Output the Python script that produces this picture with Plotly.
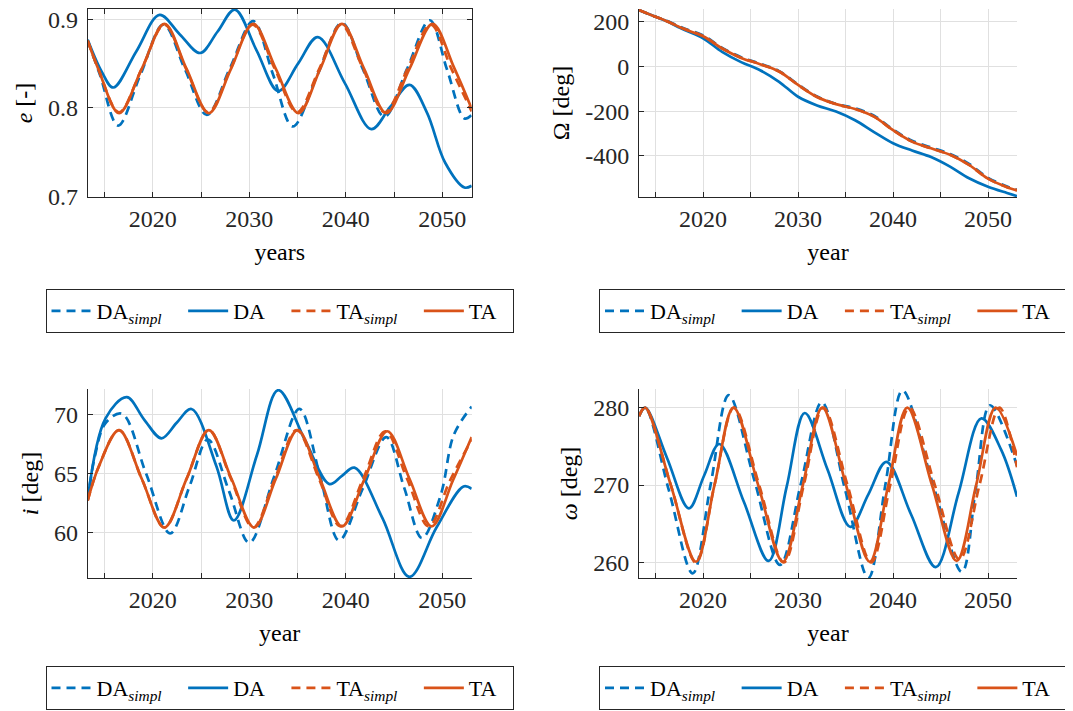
import plotly.graph_objects as go

BLUE = "#0072BD"
ORANGE = "#D95319"
FONT = "Liberation Serif, Times New Roman, serif"
AXC = "#262626"
GRID = "#e0e0e0"

# ---------------- data ----------------
# x-axis ticks
x_tick_vals = [2020, 2030, 2040, 2050]
x_tick_text = ["2020", "2030", "2040", "2050"]
x_minor_vals = [2015, 2025, 2035, 2045]

NB = "\u00a0"
legend_names = ["DA<sub><i>simpl</i></sub>" + NB * 3, "DA" + NB * 3,
                "TA<sub><i>simpl</i></sub>" + NB * 3, "TA" + NB * 2]

# --- eccentricity e [-]
e_DAs_x = [2013.25, 2014.5, 2016.4, 2018.7, 2021.1, 2023.35, 2025.6, 2028.0, 2030.4, 2032.45, 2034.5,
           2037.05, 2039.6, 2041.8, 2044.0, 2046.35, 2048.7, 2050.5, 2052.3, 2053.05]
e_DAs_y = [0.876, 0.838, 0.780, 0.837, 0.894, 0.843, 0.792, 0.845, 0.898, 0.838, 0.779,
           0.837, 0.896, 0.843, 0.790, 0.844, 0.899, 0.843, 0.788, 0.792]
e_DA_x = [2013.25, 2014.7, 2015.9, 2018.3, 2020.7, 2022.8, 2024.9, 2026.7, 2028.5, 2030.75, 2033.0,
          2035.05, 2037.1, 2039.9, 2042.65, 2044.6, 2046.6, 2048.4, 2050.3, 2052.3, 2053.05]
e_DA_y = [0.877, 0.841, 0.823, 0.864, 0.905, 0.883, 0.862, 0.886, 0.911, 0.865, 0.819,
          0.850, 0.880, 0.828, 0.776, 0.801, 0.826, 0.795, 0.738, 0.710, 0.712]
e_TAs_x = [2013.25, 2014.35, 2016.5, 2018.85, 2021.2, 2023.45, 2025.75, 2028.05, 2030.35, 2032.65, 2034.95,
           2037.25, 2039.5, 2041.8, 2044.05, 2046.4, 2048.8, 2050.95, 2053.05]
e_TAs_y = [0.876, 0.844, 0.795, 0.844, 0.894, 0.844, 0.795, 0.844, 0.894, 0.844, 0.795,
           0.844, 0.894, 0.844, 0.795, 0.844, 0.894, 0.844, 0.796]
e_TA_x = [2013.25, 2014.35, 2016.5, 2018.85, 2021.2, 2023.5, 2025.8, 2028.1, 2030.4, 2032.75, 2035.1,
          2037.35, 2039.6, 2041.9, 2044.2, 2046.6, 2049.0, 2051.2, 2053.05]
e_TA_y = [0.876, 0.844, 0.794, 0.844, 0.895, 0.844, 0.794, 0.844, 0.895, 0.844, 0.794,
          0.844, 0.895, 0.844, 0.794, 0.844, 0.895, 0.846, 0.799]

# --- RAAN Omega [deg]
O_x = [2013.25, 2015, 2016, 2018, 2020, 2022, 2024, 2026, 2028, 2030, 2032, 2034, 2036,
       2038, 2040, 2042, 2044, 2046, 2048, 2050, 2052, 2053.05]
O_DAs_y = [253, 223, 208, 171, 140, 84, 42, 13, -20, -80, -134, -167, -187, -220, -282, -332,
           -362, -391, -436, -498, -537, -552]
O_DA_y = [253, 223, 206, 165, 127, 66, 20, -16, -68, -135, -174, -201, -240, -293, -343, -376,
          -405, -448, -500, -538, -566, -580]
O_TAs_y = [253, 223, 207, 169, 137, 82, 40, 11, -22, -82, -136, -168, -190, -224, -285, -336,
           -366, -395, -440, -502, -540, -553]
O_TA_y = [253, 223, 207, 168, 136, 81, 39, 11, -22, -82, -136, -168, -190, -224, -285, -336,
          -366, -395, -440, -502, -540, -555]

# --- inclination i [deg]
i_DAs_x = [2013.25, 2014.0, 2015.1, 2016.8, 2019.3, 2021.8, 2023.8, 2025.7, 2027.9, 2030.0, 2032.6,
           2035.2, 2037.3, 2039.3, 2041.75, 2044.2, 2046.05, 2047.9, 2049.85, 2051.2, 2053.05]
i_DAs_y = [62.7, 66.5, 69.3, 70.1, 65.0, 59.9, 63.9, 67.9, 63.5, 59.1, 64.8,
           70.5, 64.9, 59.3, 63.7, 68.1, 63.8, 59.5, 63.2, 68.3, 70.7]
i_DA_x = [2013.25, 2015.1, 2017.3, 2019.1, 2020.9, 2022.45, 2024.0, 2026.6, 2028.4, 2030.8, 2033.0,
          2035.8, 2038.3, 2039.6, 2040.9, 2043.8, 2046.6, 2049.4, 2052.2, 2053.05]
i_DA_y = [62.8, 69.7, 71.5, 69.6, 68.0, 69.3, 70.5, 65.6, 61.0, 66.6, 72.1,
          67.8, 64.1, 64.8, 65.5, 61.2, 56.2, 60.4, 63.9, 63.7]
i_TAs_x = [2013.25, 2014.4, 2016.5, 2018.85, 2021.2, 2023.5, 2025.8, 2028.1, 2030.4, 2032.65, 2034.9,
           2037.2, 2039.45, 2041.8, 2044.1, 2046.35, 2048.6, 2050.8, 2053.05]
i_TAs_y = [62.7, 65.6, 68.7, 64.55, 60.4, 64.55, 68.7, 64.55, 60.4, 64.55, 68.7,
           64.6, 60.5, 64.55, 68.6, 64.55, 60.5, 64.4, 67.9]
i_TA_x = [2013.25, 2014.4, 2016.5, 2018.85, 2021.2, 2023.5, 2025.8, 2028.15, 2030.5, 2032.75, 2035.0,
          2037.3, 2039.6, 2041.95, 2044.3, 2046.6, 2048.9, 2051.1, 2053.05]
i_TA_y = [62.7, 65.6, 68.7, 64.55, 60.4, 64.55, 68.7, 64.55, 60.4, 64.55, 68.7,
          64.6, 60.5, 64.55, 68.6, 64.55, 60.5, 64.4, 68.1]

# --- argument of perigee omega [deg]
w_DAs_x = [2013.25, 2013.9, 2016.4, 2018.9, 2020.8, 2022.7, 2025.4, 2028.1, 2030.3, 2032.5, 2034.95,
           2037.4, 2039.2, 2041.0, 2044.1, 2047.25, 2048.7, 2050.2, 2053.05]
w_DAs_y = [278.9, 280.0, 269.3, 258.6, 270.1, 281.6, 270.6, 259.7, 270.2, 280.7, 269.4,
           258.0, 270.1, 282.2, 270.5, 258.8, 269.5, 280.3, 272.5]
w_DA_x = [2013.25, 2013.9, 2016.2, 2018.5, 2020.1, 2021.7, 2024.3, 2026.9, 2028.8, 2030.7, 2033.1,
          2035.5, 2037.4, 2039.3, 2041.9, 2044.5, 2046.9, 2049.3, 2051.4, 2053.05]
w_DA_y = [278.9, 280.0, 273.5, 267.0, 271.2, 275.3, 267.8, 260.2, 269.8, 279.3, 272.0,
          264.6, 268.8, 273.0, 266.2, 259.4, 269.0, 278.6, 274.5, 268.5]
w_TAs_x = [2013.25, 2013.9, 2016.6, 2019.25, 2021.2, 2023.25, 2025.9, 2028.5, 2030.6, 2032.65, 2035.2,
           2037.7, 2039.7, 2041.7, 2044.4, 2047.0, 2049.1, 2051.2, 2053.05]
w_TAs_y = [278.9, 280.0, 270.0, 260.0, 270.0, 280.0, 270.0, 260.0, 270.0, 280.0, 270.0,
           260.0, 270.0, 280.0, 270.0, 260.4, 270.0, 280.0, 272.3]
w_TA_x = [2013.25, 2013.9, 2016.6, 2019.25, 2021.2, 2023.2, 2025.8, 2028.4, 2030.5, 2032.55, 2035.05,
          2037.55, 2039.5, 2041.5, 2044.1, 2046.7, 2048.75, 2050.8, 2053.05]
w_TA_y = [278.9, 280.0, 270.0, 260.1, 270.0, 280.0, 270.0, 260.1, 270.0, 280.0, 270.0,
          260.1, 270.0, 280.0, 270.0, 260.2, 270.0, 280.0, 273.8]

# ---------------- figure ----------------
# the page body adds an 8 px offset, so the figure is 8 px smaller than the window
OFF = 8
W, H = 1073 - OFF, 711 - OFF
fig = go.Figure()


def px_x(p):
    return (p - OFF) / W


def px_y(p):
    return 1 - (p - OFF) / H


panels = [
    dict(xa="x", ya="y", leg="legend",
         series=[(e_DAs_x, e_DAs_y), (e_DA_x, e_DA_y), (e_TAs_x, e_TAs_y), (e_TA_x, e_TA_y)]),
    dict(xa="x2", ya="y2", leg="legend2",
         series=[(O_x, O_DAs_y), (O_x, O_DA_y), (O_x, O_TAs_y), (O_x, O_TA_y)]),
    dict(xa="x3", ya="y3", leg="legend3",
         series=[(i_DAs_x, i_DAs_y), (i_DA_x, i_DA_y), (i_TAs_x, i_TAs_y), (i_TA_x, i_TA_y)]),
    dict(xa="x4", ya="y4", leg="legend4",
         series=[(w_DAs_x, w_DAs_y), (w_DA_x, w_DA_y), (w_TAs_x, w_TAs_y), (w_TA_x, w_TA_y)]),
]
styles = [(BLUE, "9px,6px"), (BLUE, "solid"), (ORANGE, "9px,6px"), (ORANGE, "solid")]

for p in panels:
    for (xs, ys), name, (col, dash) in zip(p["series"], legend_names, styles):
        fig.add_trace(go.Scatter(
            x=xs, y=ys, mode="lines", name=name, xaxis=p["xa"], yaxis=p["ya"],
            legend=p["leg"], hoverinfo="skip",
            line=dict(color=col, width=2.7, dash=dash, shape="spline", smoothing=1.0)))

XR = [2013.25, 2053.05]
tickfont = dict(family=FONT, size=24, color=AXC)
titlefont = dict(family=FONT, size=24, color="#000000")

dom_xl = [px_x(87.7), px_x(471.7)]
dom_xr = [px_x(639), px_x(1017)]
dom_yt = [px_y(197), px_y(9)]
dom_yb = [px_y(578), px_y(389)]


def xax(domain, anchor, title, mirror):
    return dict(domain=domain, anchor=anchor, range=XR, tickvals=x_tick_vals, ticktext=x_tick_text,
                ticks="inside", ticklen=5, tickcolor=AXC, showgrid=True, gridcolor=GRID, gridwidth=1,
                minor=dict(tickvals=x_minor_vals, ticks="inside", ticklen=5, tickcolor=AXC,
                           showgrid=True, gridcolor=GRID, gridwidth=1),
                showline=True, linecolor=AXC, linewidth=1, mirror=mirror, zeroline=False,
                tickfont=tickfont, ticklabelstandoff=0, automargin=False,
                ticklabeloverflow="allow",
                title=dict(text=title, font=titlefont, standoff=12))


def yax(domain, anchor, rng, tv, tt, title, mirror):
    return dict(domain=domain, anchor=anchor, range=rng, tickvals=tv, ticktext=tt,
                ticks="inside", ticklen=5, tickcolor=AXC, showgrid=True, gridcolor=GRID, gridwidth=1,
                showline=True, linecolor=AXC, linewidth=1, mirror=mirror, zeroline=False,
                tickfont=tickfont, ticklabelstandoff=4, automargin=False,
                ticklabeloverflow="allow",
                title=dict(text=title, font=titlefont, standoff=8))


def legend(xc, y, yanchor):
    return dict(orientation="h", x=px_x(xc), y=px_y(y), xanchor="center", yanchor=yanchor,
                bgcolor="white", bordercolor=AXC, borderwidth=1, itemwidth=40,
                font=dict(family=FONT, size=22, color="#000000"), traceorder="normal")


fig.update_layout(
    width=W, height=H, margin=dict(l=0, r=0, t=0, b=0, autoexpand=False),
    paper_bgcolor="white", plot_bgcolor="white",
    xaxis=xax(dom_xl, "y", "years", "ticks"),
    yaxis=yax(dom_yt, "x", [0.6993, 0.9117], [0.7, 0.8, 0.9], ["0.7", "0.8", "0.9"],
              "<i>e</i> [-]", "ticks"),
    xaxis2=xax(dom_xr, "y2", "year", False),
    yaxis2=yax(dom_yt, "x2", [-584, 258], [-400, -200, 0, 200], ["-400", "-200", "0", "200"],
               "Ω [deg]", False),
    xaxis3=xax(dom_xl, "y3", "year", False),
    yaxis3=yax(dom_yb, "x3", [56.1, 72.2], [60, 65, 70], ["60", "65", "70"],
               "<i>i</i> [deg]", False),
    xaxis4=xax(dom_xr, "y4", "year", False),
    yaxis4=yax(dom_yb, "x4", [258.0, 282.4], [260, 270, 280], ["260", "270", "280"],
               "<i>ω</i> [deg]", False),
    legend=legend(279.5, 311, "middle"),
    legend2=legend(833, 311, "middle"),
    legend3=legend(279.5, 710, "bottom"),
    legend4=legend(833, 710, "bottom"),
)

fig.write_html("out.html")
